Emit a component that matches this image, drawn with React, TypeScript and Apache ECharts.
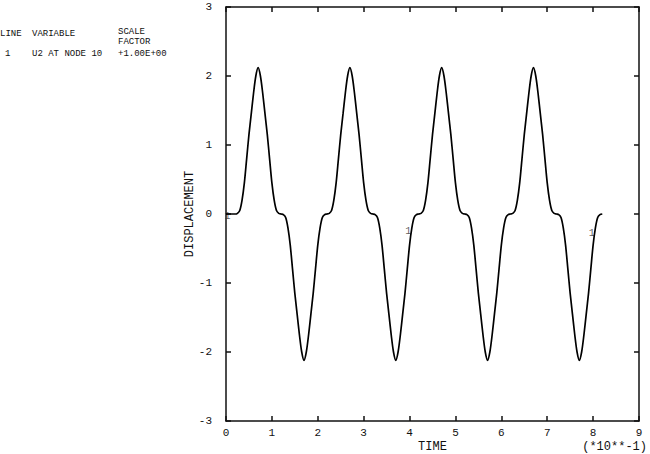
import React, { useEffect, useRef } from "react";
import * as echarts from "echarts";

// Time axis (units of 1e-1), sampled every 0.05
const time: number[] = [
  0.0, 0.05, 0.1, 0.15, 0.2, 0.25, 0.3, 0.35, 0.4, 0.45, 0.5, 0.55, 0.6, 0.65, 0.7, 0.75, 0.8, 0.85, 0.9, 0.95,
  1.0, 1.05, 1.1, 1.15, 1.2, 1.25, 1.3, 1.35, 1.4, 1.45, 1.5, 1.55, 1.6, 1.65, 1.7, 1.75, 1.8, 1.85, 1.9, 1.95,
  2.0, 2.05, 2.1, 2.15, 2.2, 2.25, 2.3, 2.35, 2.4, 2.45, 2.5, 2.55, 2.6, 2.65, 2.7, 2.75, 2.8, 2.85, 2.9, 2.95,
  3.0, 3.05, 3.1, 3.15, 3.2, 3.25, 3.3, 3.35, 3.4, 3.45, 3.5, 3.55, 3.6, 3.65, 3.7, 3.75, 3.8, 3.85, 3.9, 3.95,
  4.0, 4.05, 4.1, 4.15, 4.2, 4.25, 4.3, 4.35, 4.4, 4.45, 4.5, 4.55, 4.6, 4.65, 4.7, 4.75, 4.8, 4.85, 4.9, 4.95,
  5.0, 5.05, 5.1, 5.15, 5.2, 5.25, 5.3, 5.35, 5.4, 5.45, 5.5, 5.55, 5.6, 5.65, 5.7, 5.75, 5.8, 5.85, 5.9, 5.95,
  6.0, 6.05, 6.1, 6.15, 6.2, 6.25, 6.3, 6.35, 6.4, 6.45, 6.5, 6.55, 6.6, 6.65, 6.7, 6.75, 6.8, 6.85, 6.9, 6.95,
  7.0, 7.05, 7.1, 7.15, 7.2, 7.25, 7.3, 7.35, 7.4, 7.45, 7.5, 7.55, 7.6, 7.65, 7.7, 7.75, 7.8, 7.85, 7.9, 7.95,
  8.0, 8.05, 8.1, 8.15, 8.2,
];

// U2 at node 10 (displacement)
const u2: number[] = [
  0, 0, 0, 0, 0, 0.01, 0.05, 0.2, 0.45, 0.8, 1.15, 1.45, 1.75, 2.0, 2.12, 2.0, 1.75, 1.45, 1.15, 0.8,
  0.45, 0.2, 0.05, 0.01, 0, -0.01, -0.05, -0.2, -0.45, -0.8, -1.15, -1.45, -1.75, -2.0, -2.12, -2.0, -1.75, -1.45, -1.15, -0.8,
  -0.45, -0.2, -0.05, -0.01, 0, 0.01, 0.05, 0.2, 0.45, 0.8, 1.15, 1.45, 1.75, 2.0, 2.12, 2.0, 1.75, 1.45, 1.15, 0.8,
  0.45, 0.2, 0.05, 0.01, 0, -0.01, -0.05, -0.2, -0.45, -0.8, -1.15, -1.45, -1.75, -2.0, -2.12, -2.0, -1.75, -1.45, -1.15, -0.8,
  -0.45, -0.2, -0.05, -0.01, 0, 0.01, 0.05, 0.2, 0.45, 0.8, 1.15, 1.45, 1.75, 2.0, 2.12, 2.0, 1.75, 1.45, 1.15, 0.8,
  0.45, 0.2, 0.05, 0.01, 0, -0.01, -0.05, -0.2, -0.45, -0.8, -1.15, -1.45, -1.75, -2.0, -2.12, -2.0, -1.75, -1.45, -1.15, -0.8,
  -0.45, -0.2, -0.05, -0.01, 0, 0.01, 0.05, 0.2, 0.45, 0.8, 1.15, 1.45, 1.75, 2.0, 2.12, 2.0, 1.75, 1.45, 1.15, 0.8,
  0.45, 0.2, 0.05, 0.01, 0, -0.01, -0.05, -0.2, -0.45, -0.8, -1.15, -1.45, -1.75, -2.0, -2.12, -2.0, -1.75, -1.45, -1.15, -0.8,
  -0.45, -0.2, -0.05, -0.01, 0,
];

// Curve identifier marks ("1") placed along the line
const markerTimes: number[] = [0.03, 3.97, 7.97];
const markerValues: number[] = [-0.03, -0.25, -0.28];

const xTicks: number[] = [0, 1, 2, 3, 4, 5, 6, 7, 8, 9];
const yTicks: number[] = [-3, -2, -1, 0, 1, 2, 3];

const legendHeader: string[] = ["LINE", "VARIABLE", "SCALE", "FACTOR"];
const legendRow: string[] = ["1", "U2 AT NODE 10", "+1.00E+00"];

const FONT = "'Liberation Mono', 'DejaVu Sans Mono', monospace";
const INK = "#111";

export default function App() {
  const ref = useRef<HTMLDivElement>(null);

  useEffect(() => {
    if (!ref.current) return;
    const chart = echarts.init(ref.current, undefined, { renderer: "svg" });

    const lineData = time.map((t, i) => [t, u2[i]]);
    const markData = markerTimes.map((t, i) => [t, markerValues[i]]);

    const axisCommon = {
      type: "value" as const,
      interval: 1,
      axisLine: { show: true, onZero: false, lineStyle: { color: INK, width: 1.5 } },
      axisTick: { show: true, inside: true, length: 5, lineStyle: { color: INK, width: 1.5 } },
      splitLine: { show: false },
    };

    chart.setOption({
      animation: false,
      backgroundColor: "#ffffff",
      grid: {
        left: 226,
        right: 11,
        top: 7,
        bottom: 33,
        containLabel: false,
        outerBoundsMode: "none",
      },
      xAxis: [
        {
          ...axisCommon,
          position: "bottom",
          min: xTicks[0],
          max: xTicks[xTicks.length - 1],
          name: "TIME",
          nameLocation: "middle",
          nameGap: 20,
          nameMoveOverlap: false,
          nameTextStyle: { fontFamily: FONT, fontSize: 12, color: INK },
          axisLabel: { fontFamily: FONT, fontSize: 11, color: INK, margin: 6 },
        },
        {
          ...axisCommon,
          position: "top",
          min: xTicks[0],
          max: xTicks[xTicks.length - 1],
          axisLabel: { show: false },
        },
      ],
      yAxis: [
        {
          ...axisCommon,
          position: "left",
          min: yTicks[0],
          max: yTicks[yTicks.length - 1],
          name: "DISPLACEMENT",
          nameLocation: "middle",
          nameRotate: 90,
          nameGap: 30,
          nameMoveOverlap: false,
          nameTextStyle: { fontFamily: FONT, fontSize: 12, color: INK },
          axisLabel: { fontFamily: FONT, fontSize: 11, color: INK, margin: 14 },
        },
        {
          ...axisCommon,
          position: "right",
          min: yTicks[0],
          max: yTicks[yTicks.length - 1],
          axisLabel: { show: false },
        },
      ],
      series: [
        {
          type: "line",
          name: "U2 AT NODE 10",
          data: lineData,
          showSymbol: false,
          smooth: 0.3,
          lineStyle: { color: "#000", width: 1.7 },
          xAxisIndex: 0,
          yAxisIndex: 0,
        },
        {
          type: "scatter",
          data: markData,
          symbolSize: 1,
          clip: false,
          itemStyle: { color: "rgba(0,0,0,0)" },
          label: {
            show: true,
            position: "inside",
            formatter: "1",
            fontFamily: FONT,
            fontSize: 10,
            color: "#333",
          },
          xAxisIndex: 0,
          yAxisIndex: 0,
        },
      ],
      graphic: [
        { type: "text", left: 0, top: 29, style: { text: legendHeader[0], font: `9px ${FONT}`, fill: INK } },
        { type: "text", left: 32, top: 29, style: { text: legendHeader[1], font: `9px ${FONT}`, fill: INK } },
        { type: "text", left: 118, top: 27, style: { text: legendHeader[2], font: `9px ${FONT}`, fill: INK } },
        { type: "text", left: 118, top: 37, style: { text: legendHeader[3], font: `9px ${FONT}`, fill: INK } },
        { type: "text", left: 5, top: 49, style: { text: legendRow[0], font: `9px ${FONT}`, fill: INK } },
        { type: "text", left: 32, top: 49, style: { text: legendRow[1], font: `9px ${FONT}`, fill: INK } },
        { type: "text", left: 118, top: 49, style: { text: legendRow[2], font: `9px ${FONT}`, fill: INK } },
        {
          type: "text",
          right: 3,
          top: 441,
          style: { text: "(*10**-1)", font: `12px ${FONT}`, fill: INK },
        },
      ],
    });

    return () => chart.dispose();
  }, []);

  return (
    <div
      ref={ref}
      style={{ position: "fixed", left: 0, top: 0, width: 650, height: 454, background: "#fff" }}
    />
  );
}
